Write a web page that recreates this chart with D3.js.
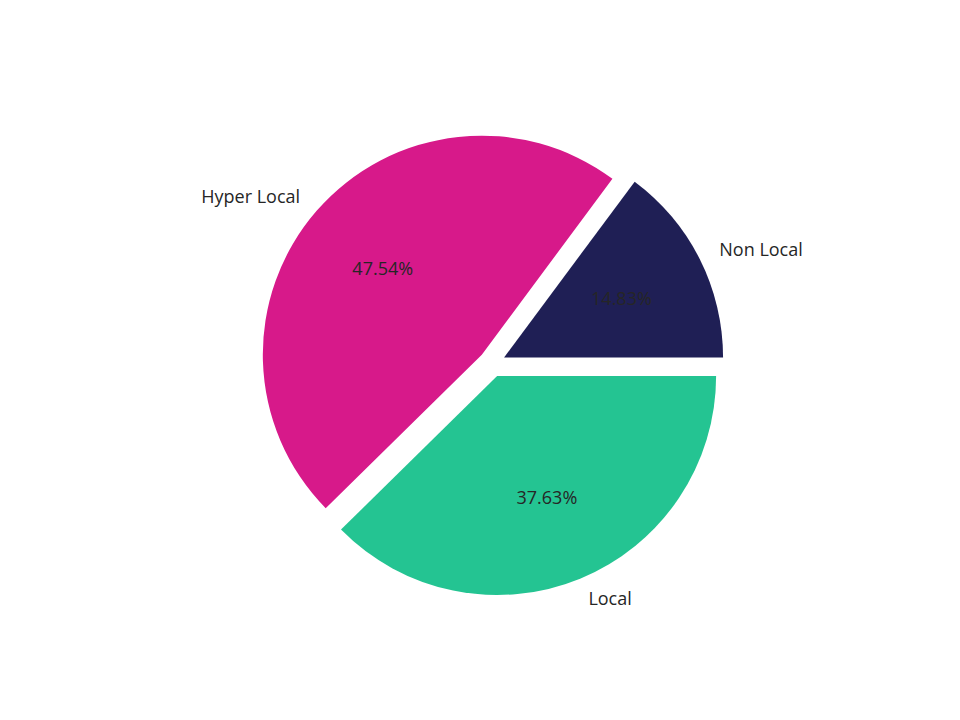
<!DOCTYPE html>
<html>
<head>
<meta charset="utf-8">
<script src="https://cdn.jsdelivr.net/npm/d3@7"></script>
<style>
html,body{margin:0;padding:0;background:#fff;}
svg text{font-family:"Open Sans","Noto Sans",sans-serif;font-size:18px;fill:#262626;}
</style>
</head>
<body>
<svg id="chart" width="960" height="720"></svg>
<script>
const categories = ["Non Local", "Hyper Local", "Local"];
const values = [14.83, 47.54, 37.63];
const colors = ["#1f1f55", "#d7198a", "#24c492"];

const W = 960, H = 720;
const cx = 492, cy = 363.5;
const R = 219;
const explode = 13.5;

const svg = d3.select("#chart");
const data = categories.map((c, i) => ({label: c, value: values[i], color: colors[i]}));

const pie = d3.pie().value(d => d.value).sort(null)
  .startAngle(Math.PI / 2).endAngle(Math.PI / 2 - 2 * Math.PI);
const arcs = pie(data);
const arc = d3.arc().innerRadius(0).outerRadius(R);
const total = d3.sum(values);

const g = svg.append("g").attr("transform", `translate(${cx},${cy})`);

arcs.forEach(a => {
  const mid = (a.startAngle + a.endAngle) / 2;
  const ux = Math.sin(mid), uy = -Math.cos(mid);
  const ox = explode * ux, oy = explode * uy;
  const sg = g.append("g").attr("transform", `translate(${ox},${oy})`);
  sg.append("path").attr("d", arc(a)).attr("fill", a.data.color);
  const lr = R * 1.1, pr = R * 0.6;
  sg.append("text")
    .attr("x", lr * ux).attr("y", lr * uy)
    .attr("dy", "0.35em")
    .attr("text-anchor", ux > 0 ? "start" : "end")
    .text(a.data.label);
  sg.append("text")
    .attr("x", pr * ux).attr("y", pr * uy)
    .attr("dy", "0.35em")
    .attr("text-anchor", "middle")
    .text((a.data.value / total * 100).toFixed(2) + "%");
});
</script>
</body>
</html>
